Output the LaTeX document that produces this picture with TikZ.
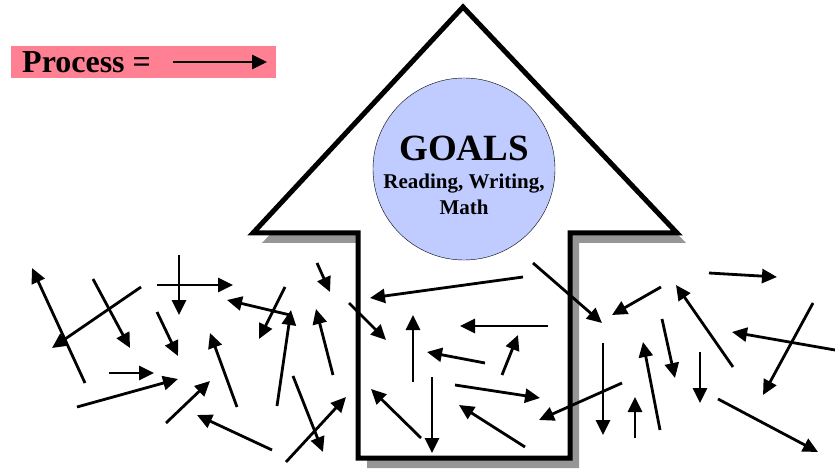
\documentclass[tikz,border=0pt]{standalone}
\usepackage{fontspec}
\setmainfont{Liberation Serif}
\usetikzlibrary{arrows.meta,positioning}
\definecolor{Blush}{HTML}{FF8093}
\definecolor{Sky}{HTML}{C0CCFF}
\definecolor{Shade}{HTML}{969696}
\tikzset{
  stray/.style={line width=2.8pt,-{Triangle[length=15pt,width=14pt]}},
  bigup/.style={line width=5pt,line join=miter,draw=black,fill=white}
}

\begin{document}
\begin{tikzpicture}[x=1pt,y=-1pt]
  \useasboundingbox (0,0) rectangle (835,470);
  % label box
  \node[fill=Blush,minimum width=265pt,minimum height=32pt,inner sep=0pt] (processbox) at (143.5,62) {};
  \node[anchor=base west,inner sep=0pt,font=\fontsize{32}{38}\selectfont\bfseries] (process) at (22,73) {Process =};
  \coordinate (pa) at (173,62);
  \coordinate (pb) at (267,62);
  \draw[stray] (pa) -- (pb);
  % big arrow with shadow
  \fill[Shade,shift={(9,10)}] (463,7) -- (677,233) -- (570,233) -- (570,458) -- (358,458) -- (358,233) -- (253,233) -- cycle;
  \draw[bigup] (463,7) -- (677,233) -- (570,233) -- (570,458) -- (358,458) -- (358,233) -- (253,233) -- cycle;
  \node[circle,draw,thin,fill=Sky,minimum size=182pt,inner sep=0pt] (goals) at (464,169) {};
  \node[anchor=base,font=\fontsize{37}{40}\selectfont\bfseries,inner sep=0pt] (goalstitle) at (464,161) {GOALS};
  \node[anchor=base,font=\fontsize{21}{26}\selectfont\bfseries,inner sep=0pt] (goalsub) at (464,189) {Reading, Writing,};
  \node[anchor=base,font=\fontsize{21}{26}\selectfont\bfseries,inner sep=0pt] (goalsub2) at (464,215) {Math};
  % scattered efforts
  \foreach \ax/\ay/\bx/\by [count=\k] in {
    85/383/32/268, 93/279/130/348, 141/287/52/348, 179/255/179/315,
    157/285/233/285, 157/312/178/356, 109/373/154/373, 77/407/178/379,
    166/423/210/381, 237/407/210/333, 272/450/197/415, 285/287/259/339,
    290/315/227/300, 277/406/291/310, 333/375/316/309, 293/376/323/452,
    286/462/346/397, 317/263/330/292, 349/303/386/340, 523/277/370/298,
    413/382/413/315, 432/377/432/453, 548/326/460/326, 485/363/427/352,
    502/375/518/335, 455/385/540/398, 525/447/459/405, 421/438/371/389,
    622/383/539/420, 533/263/602/323, 661/287/612/315, 709/273/777/277,
    733/367/676/285, 813/303/763/395, 835/350/732/332, 662/319/675/378,
    603/343/603/435, 660/430/643/342, 635/438/635/397, 700/352/700/403,
    718/399/818/452}{
    \coordinate (s\k) at (\ax,\ay);
    \coordinate (e\k) at (\bx,\by);
    \draw[stray] (s\k) -- (e\k);
  }
\end{tikzpicture}
\end{document}
